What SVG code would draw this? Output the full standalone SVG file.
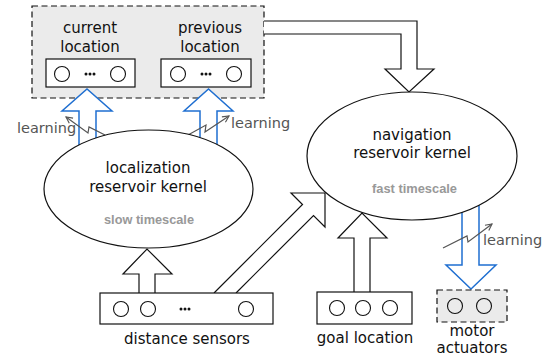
<svg xmlns="http://www.w3.org/2000/svg" width="555" height="362" viewBox="0 0 555 362">
<defs>
<style>
.t{font-family:"DejaVu Sans",sans-serif;font-size:15px;fill:#111;text-anchor:middle}
.lt{font-family:"DejaVu Sans",sans-serif;font-size:14.5px;fill:#555}
.ts{font-family:"Liberation Sans",Arial,sans-serif;font-size:12.5px;font-weight:bold;fill:#999}
.box{fill:#fff;stroke:#111;stroke-width:1.2}
.dbox{fill:#ebebeb;stroke:#111;stroke-width:1.2;stroke-dasharray:6 3.5}
.c{fill:none;stroke:#111;stroke-width:1.1}
.dot{fill:#111}
.ell{fill:#fff;stroke:#111;stroke-width:1.2}
.barrow{fill:#fff;stroke:#111;stroke-width:1.2;stroke-linejoin:miter}
.blue{fill:#fff;stroke:#1f6fd1;stroke-width:1.5;stroke-linejoin:miter}
.learn{fill:none;stroke:#555;stroke-width:1.2}
</style>
<marker id="lh" viewBox="0 0 10 10" refX="9" refY="5" markerWidth="8" markerHeight="8" markerUnits="userSpaceOnUse" orient="auto">
<path d="M1,1 L9,5 L1,9" fill="none" stroke="#555" stroke-width="1.4"/>
</marker>
</defs>
<rect width="555" height="362" fill="#fff"/>

<g id="memory">
<rect class="dbox" x="32" y="6" width="232" height="92"/>
</g>
<g id="current-location">
<text class="t" x="90" y="33">current</text>
<text class="t" x="90" y="52">location</text>
<rect class="box" x="46" y="59" width="89" height="28"/>
<circle class="c" cx="62" cy="74" r="7.5"/>
<circle class="dot" cx="86" cy="74" r="1.5"/><circle class="dot" cx="90" cy="74" r="1.5"/><circle class="dot" cx="94" cy="74" r="1.5"/>
<circle class="c" cx="118" cy="74" r="7.5"/>
</g>
<g id="previous-location">
<text class="t" x="210" y="33">previous</text>
<text class="t" x="210" y="52">location</text>
<rect class="box" x="161" y="59" width="90" height="28"/>
<circle class="c" cx="178" cy="74" r="7.5"/>
<circle class="dot" cx="202" cy="74" r="1.5"/><circle class="dot" cx="206" cy="74" r="1.5"/><circle class="dot" cx="210" cy="74" r="1.5"/>
<circle class="c" cx="234" cy="74" r="7.5"/>
</g>

<g id="connectors">
<path class="barrow" d="M264,21 L417,21 L417,69 L434,69 L409,92 L385,69 L401,69 L401,34 L264,34"/>
<path class="barrow" d="M214,293 L302.5,204.5 L291,193 L325,193 L325,227 L313.5,215.5 L236,293"/>
<path class="barrow" d="M139,293 L139,274 L123,274 L147,249 L172,274 L155,274 L155,293"/>
<path class="barrow" d="M354,292 L354,238 L338,238 L362,213 L387,238 L370,238 L370,292"/>
<path class="blue" d="M79,145 L79,111 L62,111 L87,89 L112,111 L96,111 L96,138"/>
<path class="blue" d="M200,137.7 L200,111 L184,111 L208.5,89 L233,111 L217,111 L217,144.4"/>
<path class="blue" d="M462,212.3 L462,265 L446,265 L471,289 L496,265 L479,265 L479,205.3"/>
<path class="learn" d="M105,135 L89,127 L88,133 L66,117" marker-end="url(#lh)"/>
<path class="learn" d="M188,135 L206,125 L205,132 L229,116" marker-end="url(#lh)"/>
<path class="learn" d="M443,248 L467,236 L468,242 L492,224" marker-end="url(#lh)"/>
<text class="lt" x="17" y="133">learning</text>
<text class="lt" x="231" y="128">learning</text>
<text class="lt" x="483" y="245">learning</text>
</g>

<g id="localization-kernel">
<ellipse class="ell" cx="148.5" cy="189" rx="104.5" ry="59"/>
<text class="t" x="148" y="173">localization</text>
<text class="t" x="148" y="192">reservoir kernel</text>
<text class="ts" x="104" y="224" textLength="90" lengthAdjust="spacingAndGlyphs">slow timescale</text>
</g>

<g id="navigation-kernel">
<ellipse class="ell" cx="412" cy="156" rx="105" ry="64"/>
<text class="t" x="412" y="140">navigation</text>
<text class="t" x="412" y="158">reservoir kernel</text>
<text class="ts" x="372" y="193" textLength="85" lengthAdjust="spacingAndGlyphs">fast timescale</text>
</g>

<g id="distance-sensors">
<rect class="box" x="100" y="293" width="173" height="31"/>
<circle class="c" cx="121" cy="309" r="7.5"/>
<circle class="c" cx="148" cy="309" r="7.5"/>
<circle class="dot" cx="181" cy="309" r="1.5"/><circle class="dot" cx="185" cy="309" r="1.5"/><circle class="dot" cx="189" cy="309" r="1.5"/>
<circle class="c" cx="246" cy="309" r="7.5"/>
<text class="t" x="187" y="344">distance sensors</text>
</g>

<g id="goal-location">
<rect class="box" x="317" y="292" width="95" height="32"/>
<circle class="c" cx="337" cy="308" r="7.5"/>
<circle class="c" cx="363" cy="308" r="7.5"/>
<circle class="c" cx="390" cy="308" r="7.5"/>
<text class="t" x="365" y="343">goal location</text>
</g>

<g id="motor-actuators">
<rect class="dbox" x="437" y="290" width="70" height="32"/>
<circle class="c" cx="455" cy="306" r="7.5"/>
<circle class="c" cx="484" cy="306" r="7.5"/>
<text class="t" x="472" y="336">motor</text>
<text class="t" x="472" y="353">actuators</text>
</g>
</svg>
